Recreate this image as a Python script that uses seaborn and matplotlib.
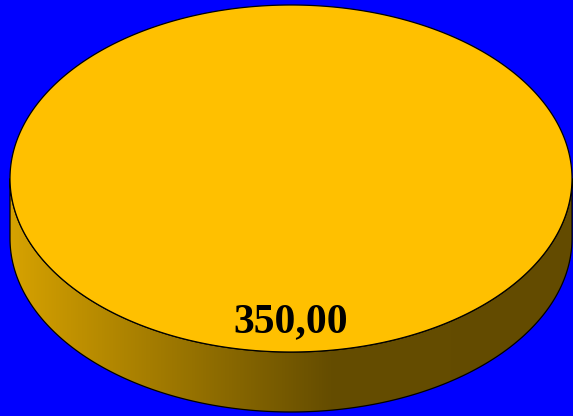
import numpy as np
import matplotlib
matplotlib.use("Agg")
import matplotlib.pyplot as plt
from matplotlib.patches import Polygon
from matplotlib.colors import LinearSegmentedColormap
import seaborn as sns

# Data
categories = ["Serie 1"]
values = [350.00]
labels = ["350,00"]
slice_colors = ["#FFC000"]

sns.set_theme(style="white")
plt.rcParams['font.family'] = ['Liberation Serif', 'DejaVu Serif']

W, H = 573, 416
fig = plt.figure(figsize=(W / 100, H / 100), dpi=100)
fig.patch.set_facecolor("#0000FF")
ax = fig.add_axes([0, 0, 1, 1])
ax.set_facecolor("#0000FF")
ax.set_xlim(0, W)
ax.set_ylim(H, 0)
ax.axis("off")

# pie geometry (3D look)
cx, cy = 291.0, 178.5
rx, ry = 281.0, 173.5
depth = 60.0

total = sum(values)
fracs = [v / total for v in values]
start = 0.0
for frac, col, lab in zip(fracs, slice_colors, labels):
    a0, a1 = start * 2 * np.pi, (start + frac) * 2 * np.pi
    start += frac
    # side (front part, angles 0..pi in screen-down direction)
    t = np.linspace(0, np.pi, 300)
    top_x = cx + rx * np.cos(t)
    top_y = cy + ry * np.sin(t)
    side = np.concatenate([
        np.column_stack([top_x, top_y]),
        np.column_stack([top_x[::-1], top_y[::-1] + depth]),
    ])
    side_poly = Polygon(side, closed=True, facecolor="none", edgecolor="none")
    ax.add_patch(side_poly)
    cmap = LinearSegmentedColormap.from_list(
        "side", [(0.0, "#D6A200"), (0.57, "#654D00"), (1.0, "#634B00")])
    grad = np.linspace(0, 1, 512).reshape(1, -1)
    im = ax.imshow(grad, cmap=cmap, aspect="auto",
                   extent=[cx - rx, cx + rx, cy + ry + depth, cy - 5],
                   zorder=1, interpolation="bilinear")
    im.set_clip_path(side_poly)
    ax.add_patch(Polygon(side, closed=True, facecolor="none",
                         edgecolor="black", lw=0.9, zorder=2))
    # top face
    tt = np.linspace(a0, a1, 600)
    top = np.column_stack([cx + rx * np.cos(tt), cy + ry * np.sin(tt)])
    ax.add_patch(Polygon(top, closed=True, facecolor=col,
                         edgecolor="black", lw=0.9, zorder=3))
    # label
    ax.text(cx, cy + ry * 0.83, lab, ha="center", va="center",
            fontsize=30, fontweight="bold", color="black", zorder=4)

fig.savefig("out.png", dpi=100, facecolor=fig.get_facecolor())
